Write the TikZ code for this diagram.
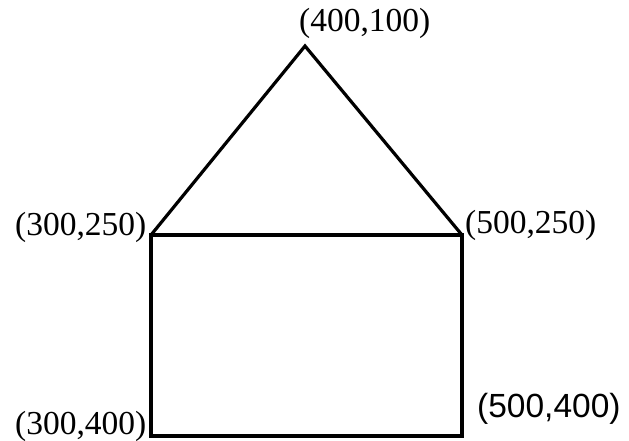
\documentclass[tikz,border=0pt]{standalone}
\usepackage{fontspec}
\setmainfont{Liberation Serif}
\newfontfamily\arialfont{Liberation Sans}
\begin{document}
\begin{tikzpicture}[x=1pt,y=-1pt,
  edge/.style={line width=3.2pt, line join=miter, black},
  lbl/.style={anchor=base west, inner sep=0pt, font=\fontsize{33.5}{34}\selectfont},
  lblsans/.style={anchor=base west, inner sep=0pt, font=\arialfont\fontsize{33.5}{34}\selectfont}]
\useasboundingbox (0,0) rectangle (629,441);
\coordinate (apex) at (305,46);
\coordinate (lr) at (151,235);
\coordinate (rr) at (462,235);
\coordinate (bl) at (151,436);
\coordinate (br) at (462,436);
\draw[edge] (lr) -- (apex) -- (rr);
\draw[edge] (lr) -- (rr) -- (br) -- (bl) -- cycle;
\node[lbl] (t1) at (299,32) {(400,100)};
\node[lbl] (t2) at (15,235) {(300,250)};
\node[lbl] (t3) at (465,233) {(500,250)};
\node[lbl] (t4) at (15,434) {(300,400)};
\node[lblsans] (t5) at (477,417) {(500,400)};
\end{tikzpicture}
\end{document}
